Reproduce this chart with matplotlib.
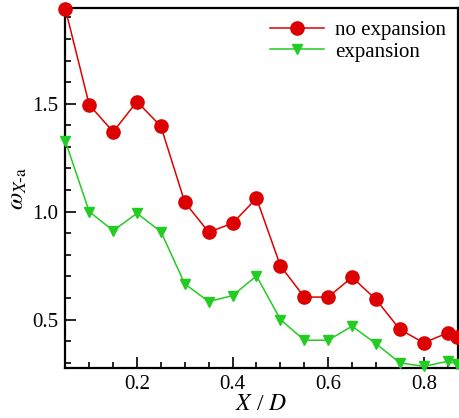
import numpy as np
import matplotlib
matplotlib.use("Agg")
import matplotlib.pyplot as plt
from matplotlib.ticker import MultipleLocator

plt.rcParams['font.family'] = ['Liberation Serif', 'DejaVu Serif']
plt.rcParams['mathtext.fontset'] = 'stix'

x = [0.05, 0.10, 0.15, 0.20, 0.25, 0.30, 0.35, 0.40, 0.45, 0.50,
     0.55, 0.60, 0.65, 0.70, 0.75, 0.80, 0.85, 0.87]
no_expansion = [1.94, 1.495, 1.37, 1.51, 1.395, 1.043, 0.905, 0.946, 1.062, 0.749,
                0.604, 0.604, 0.696, 0.593, 0.454, 0.392, 0.438, 0.418]
expansion = [1.327, 1.0, 0.912, 0.992, 0.907, 0.665, 0.583, 0.611, 0.702, 0.50,
             0.404, 0.404, 0.469, 0.388, 0.299, 0.283, 0.306, 0.295]

fig = plt.figure(figsize=(4.6, 4.18), dpi=100)
ax = fig.add_axes([0.141, 0.12, 0.855, 0.861])

ax.plot(x, no_expansion, color='#dd0000', lw=1.1, marker='o', ms=9.5,
        label='no expansion', clip_on=False, zorder=3)
ax.plot(x, expansion, color='#22cc22', lw=1.1, marker='v', ms=7.5,
        label='expansion', clip_on=False, zorder=3)

ax.set_xlim(0.049, 0.872)
ax.set_ylim(0.276, 1.944)
ax.xaxis.set_major_locator(MultipleLocator(0.2))
ax.xaxis.set_minor_locator(MultipleLocator(0.05))
ax.yaxis.set_major_locator(MultipleLocator(0.5))
ax.yaxis.set_minor_locator(MultipleLocator(0.1))
ax.tick_params(which='both', direction='in', top=False, right=False,
               labelsize=15, width=1.2)
ax.tick_params(which='major', length=8, pad=5)
ax.tick_params(which='minor', length=4)
for s in ax.spines.values():
    s.set_linewidth(1.6)

ax.set_xlabel('$X$ / $D$', fontsize=17, labelpad=0)
ax.set_ylabel(r'$\omega_{X\mathrm{\text{-}a}}$', fontsize=18, labelpad=2)

ax.legend(loc='upper right', frameon=False, fontsize=15, handlelength=2.6,
          borderaxespad=0.2, labelspacing=0.1, handletextpad=0.5)

fig.savefig('out.png', dpi=100)
